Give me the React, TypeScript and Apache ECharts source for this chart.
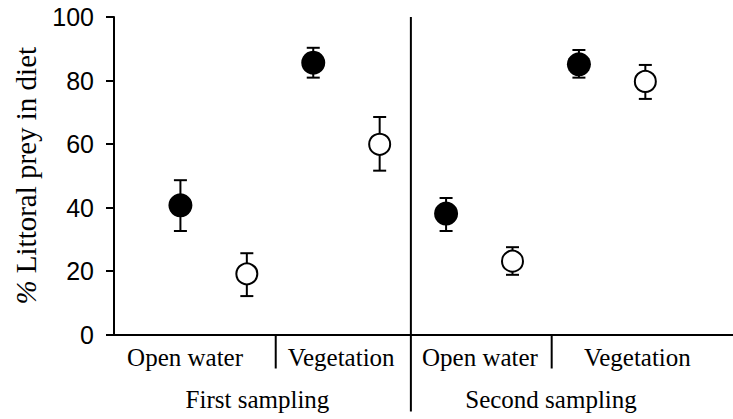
import React, { useEffect, useRef } from "react";
import * as echarts from "echarts";

// Data
const filledX = [1, 3, 5, 7];
const filledMeans = [40.7, 85.6, 38.1, 85.1];
const filledUpper = [48.6, 90.3, 43.0, 89.6];
const filledLower = [32.6, 80.9, 32.6, 80.9];

const openX = [2, 4, 6, 8];
const openMeans = [19.1, 59.9, 23.1, 79.7];
const openUpper = [25.6, 68.5, 27.5, 84.9];
const openLower = [12.1, 51.6, 18.8, 74.2];

const habitatLabels = ["Open water", "Vegetation", "Open water", "Vegetation"];
const habitatLabelX = [1.07, 3.42, 5.51, 7.88];
const samplingLabels = ["First sampling", "Second sampling"];
const samplingLabelX = [2.16, 6.58];
const habitatDividerX = [2.435, 6.59];
const samplingDividerX = [4.47];

const yTicks = [0, 20, 40, 60, 80, 100];

const SERIF = "'Liberation Serif', 'Times New Roman', serif";
const SANS = "'Liberation Sans', Arial, sans-serif";

export default function App() {
  const ref = useRef<HTMLDivElement>(null);

  useEffect(() => {
    if (!ref.current) return;
    const chart = echarts.init(ref.current, null, { renderer: "svg" });

    const errData = [
      ...filledX.map((x, i) => [x, filledLower[i], filledUpper[i]]),
      ...openX.map((x, i) => [x, openLower[i], openUpper[i]]),
    ];

    const errorRender = (params: any, api: any) => {
      const x = api.value(0);
      const lo = api.coord([x, api.value(1)]);
      const hi = api.coord([x, api.value(2)]);
      const hw = 6.5;
      const style = { stroke: "#000", lineWidth: 2 };
      return {
        type: "group",
        children: [
          { type: "line", shape: { x1: lo[0], y1: lo[1], x2: hi[0], y2: hi[1] }, style },
          { type: "line", shape: { x1: hi[0] - hw, y1: hi[1], x2: hi[0] + hw, y2: hi[1] }, style },
          { type: "line", shape: { x1: lo[0] - hw, y1: lo[1], x2: lo[0] + hw, y2: lo[1] }, style },
        ],
      };
    };

    const dividerData = [
      ...habitatDividerX.map((x) => [x, 0]),
      ...samplingDividerX.map((x) => [x, 1]),
    ];
    const dividerRender = (params: any, api: any) => {
      const x = api.value(0);
      const kind = api.value(1);
      const base = api.coord([x, 0]);
      const top = api.coord([x, 100]);
      const style = { stroke: "#000", lineWidth: 2 };
      if (kind === 1) {
        return {
          type: "line",
          shape: { x1: base[0], y1: top[1], x2: base[0], y2: base[1] + 77 },
          style,
        };
      }
      return {
        type: "line",
        shape: { x1: base[0], y1: base[1], x2: base[0], y2: base[1] + 34 },
        style,
      };
    };

    const labelData = [
      ...habitatLabels.map((t, i) => [habitatLabelX[i], 0, t]),
      ...samplingLabels.map((t, i) => [samplingLabelX[i], 1, t]),
    ];
    const labelRender = (params: any, api: any) => {
      const x = api.value(0);
      const row = api.value(1);
      const text = labelData[params.dataIndex][2] as string;
      const p = api.coord([x, 0]);
      return {
        type: "text",
        x: p[0],
        y: p[1] + (row === 1 ? 64.5 : 23),
        style: {
          text,
          fill: "#000",
          font: `25px ${SERIF}`,
          align: "center",
          verticalAlign: "middle",
        },
      };
    };

    chart.setOption({
      animation: false,
      backgroundColor: "#fff",
      grid: { left: 114, right: 0, top: 17, bottom: 84.5, containLabel: false },
      xAxis: {
        type: "value",
        min: 0,
        max: 9.32,
        axisLine: { show: true, lineStyle: { color: "#000", width: 2 } },
        axisTick: { show: false },
        axisLabel: { show: false },
        splitLine: { show: false },
      },
      yAxis: {
        type: "value",
        min: yTicks[0],
        max: yTicks[yTicks.length - 1],
        interval: 20,
        name: "{p|%} Littoral prey in diet",
        nameLocation: "middle",
        nameGap: 74,
        nameTextStyle: {
          fontFamily: SERIF,
          fontSize: 29,
          color: "#000",
          rich: { p: { fontFamily: SERIF, fontSize: 29, fontStyle: "italic", color: "#000" } },
        },
        axisLine: { show: true, lineStyle: { color: "#000", width: 2 } },
        axisTick: { show: true, length: 8, lineStyle: { color: "#000", width: 2 } },
        axisLabel: { color: "#000", fontFamily: SANS, fontSize: 25, margin: 20 },
        splitLine: { show: false },
      },
      series: [
        {
          type: "custom",
          renderItem: dividerRender,
          data: dividerData,
          clip: false,
          silent: true,
          z: 1,
        },
        {
          type: "custom",
          renderItem: labelRender,
          data: labelData.map((d) => [d[0], d[1]]),
          clip: false,
          silent: true,
          z: 1,
        },
        {
          type: "custom",
          renderItem: errorRender,
          data: errData,
          clip: false,
          silent: true,
          z: 2,
        },
        {
          type: "scatter",
          data: filledX.map((x, i) => [x, filledMeans[i]]),
          symbol: "circle",
          symbolSize: 24,
          itemStyle: { color: "#000", opacity: 1 },
          z: 3,
        },
        {
          type: "scatter",
          data: openX.map((x, i) => [x, openMeans[i]]),
          symbol: "circle",
          symbolSize: 21,
          itemStyle: { color: "#fff", borderColor: "#000", borderWidth: 2, opacity: 1 },
          z: 3,
        },
      ],
    });

    return () => chart.dispose();
  }, []);

  return (
    <div
      ref={ref}
      style={{ position: "absolute", left: 0, top: 0, width: 733, height: 419 }}
    />
  );
}
